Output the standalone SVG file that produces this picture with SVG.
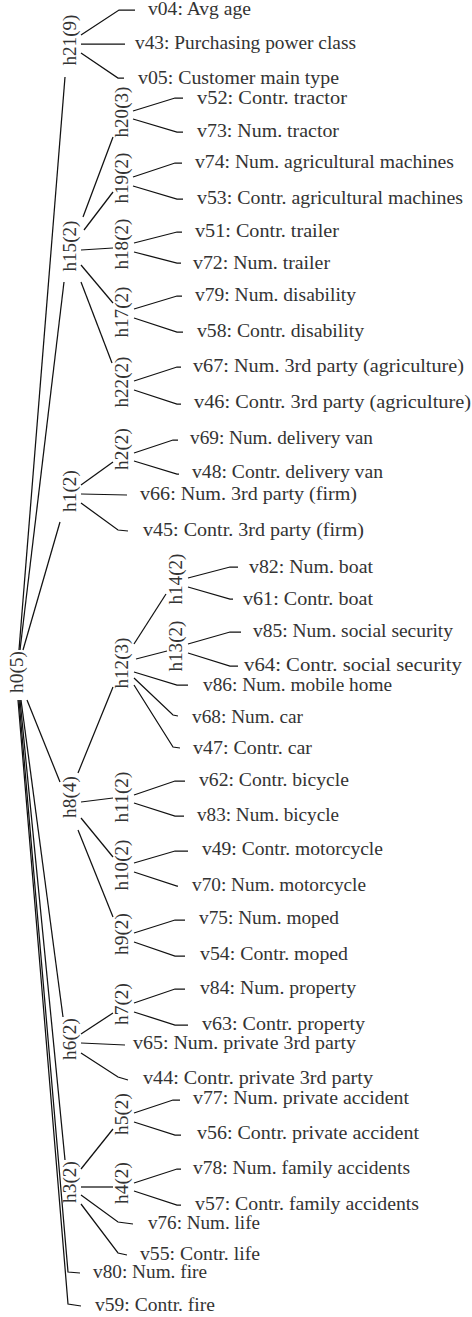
<svg xmlns="http://www.w3.org/2000/svg" width="472" height="1317" viewBox="0 0 472 1317" font-family="'Liberation Serif', 'DejaVu Serif', serif">
<style>
.e{fill:none;stroke:#111;stroke-width:1.25;stroke-linejoin:miter}
text{font-family:'Liberation Serif','DejaVu Serif',serif;font-size:18px;fill:#333}
.h{text-anchor:middle}
</style>
<rect width="472" height="1317" fill="#fff"/>
<g id="connectors">
<polyline class="e" points="19,650 65,77"/>
<polyline class="e" points="20,650 64,282"/>
<polyline class="e" points="23,650 60,522"/>
<polyline class="e" points="27,700 60,782"/>
<polyline class="e" points="21,700 63,1017"/>
<polyline class="e" points="20,700 65,1160"/>
<polyline class="e" points="19,700 68,1272 80,1273"/>
<polyline class="e" points="18,700 68,1304 81,1306"/>
<polyline class="e" points="83,217 113,137"/>
<polyline class="e" points="84,230 113,192"/>
<polyline class="e" points="81,250 113,248"/>
<polyline class="e" points="81,265 113,303"/>
<polyline class="e" points="81,282 112,363"/>
<polyline class="e" points="81,485 113,462"/>
<polyline class="e" points="78,773 113,687"/>
<polyline class="e" points="134,644 166,594"/>
<polyline class="e" points="136,659 167,651"/>
<polyline class="e" points="81,802 113,798"/>
<polyline class="e" points="81,818 113,857"/>
<polyline class="e" points="78,830 113,917"/>
<polyline class="e" points="81,1034 113,1013"/>
<polyline class="e" points="81,1169 113,1129"/>
<polyline class="e" points="81,1187 113,1187"/>
<polyline class="e" points="81,35 119,10 135,10"/>
<polyline class="e" points="81,44 125,44"/>
<polyline class="e" points="81,53 118,78 124,78"/>
<polyline class="e" points="133,111 175,98 183,98"/>
<polyline class="e" points="133,119 177,132 183,132"/>
<polyline class="e" points="133,177 175,163 182,163"/>
<polyline class="e" points="133,186 177,199 183,199"/>
<polyline class="e" points="134,243 177,232 182,232"/>
<polyline class="e" points="134,252 177,263 181,263"/>
<polyline class="e" points="134,309 177,296 182,296"/>
<polyline class="e" points="134,318 177,332 183,332"/>
<polyline class="e" points="134,381 177,367 181,367"/>
<polyline class="e" points="134,390 177,404 181,404"/>
<polyline class="e" points="134,453 173,440 178,440"/>
<polyline class="e" points="134,461 177,474 179,474"/>
<polyline class="e" points="81,494 127,495"/>
<polyline class="e" points="81,503 118,530 128,531"/>
<polyline class="e" points="188,578 230,567 238,567"/>
<polyline class="e" points="188,587 230,599 233,599"/>
<polyline class="e" points="188,644 230,632 241,632"/>
<polyline class="e" points="188,653 230,666 238,666"/>
<polyline class="e" points="134,672 177,685 188,685"/>
<polyline class="e" points="134,678 173,715 178,716"/>
<polyline class="e" points="134,685 173,747 180,748"/>
<polyline class="e" points="134,795 175,781 185,781"/>
<polyline class="e" points="134,803 175,816 184,816"/>
<polyline class="e" points="134,863 175,851 188,851"/>
<polyline class="e" points="134,872 177,886 178,886"/>
<polyline class="e" points="134,933 175,920 185,920"/>
<polyline class="e" points="134,942 175,956 185,956"/>
<polyline class="e" points="134,1003 175,989 185,989"/>
<polyline class="e" points="134,1012 175,1025 188,1025"/>
<polyline class="e" points="81,1043 125,1045"/>
<polyline class="e" points="81,1053 118,1077 128,1080"/>
<polyline class="e" points="134,1113 173,1100 180,1100"/>
<polyline class="e" points="134,1122 175,1135 181,1135"/>
<polyline class="e" points="134,1183 177,1169 181,1169"/>
<polyline class="e" points="134,1191 177,1205 181,1205"/>
<polyline class="e" points="81,1195 118,1222 133,1224"/>
<polyline class="e" points="81,1204 118,1253 127,1255"/>
</g>
<g id="h0"><text class="h" transform="translate(23,672) rotate(-90)" textLength="42" lengthAdjust="spacingAndGlyphs">h0(5)</text></g>
<g id="h21"><text class="h" transform="translate(76,40) rotate(-90)" textLength="51" lengthAdjust="spacingAndGlyphs">h21(9)</text></g>
<g id="h15"><text class="h" transform="translate(76,246) rotate(-90)" textLength="51" lengthAdjust="spacingAndGlyphs">h15(2)</text></g>
<g id="h1"><text class="h" transform="translate(76,491) rotate(-90)" textLength="42" lengthAdjust="spacingAndGlyphs">h1(2)</text></g>
<g id="h8"><text class="h" transform="translate(76,797) rotate(-90)" textLength="42" lengthAdjust="spacingAndGlyphs">h8(4)</text></g>
<g id="h6"><text class="h" transform="translate(76,1039) rotate(-90)" textLength="42" lengthAdjust="spacingAndGlyphs">h6(2)</text></g>
<g id="h3"><text class="h" transform="translate(76,1182) rotate(-90)" textLength="42" lengthAdjust="spacingAndGlyphs">h3(2)</text></g>
<g id="h20"><text class="h" transform="translate(128,112) rotate(-90)" textLength="51" lengthAdjust="spacingAndGlyphs">h20(3)</text></g>
<g id="h19"><text class="h" transform="translate(128,178) rotate(-90)" textLength="51" lengthAdjust="spacingAndGlyphs">h19(2)</text></g>
<g id="h18"><text class="h" transform="translate(128,244) rotate(-90)" textLength="51" lengthAdjust="spacingAndGlyphs">h18(2)</text></g>
<g id="h17"><text class="h" transform="translate(128,312) rotate(-90)" textLength="51" lengthAdjust="spacingAndGlyphs">h17(2)</text></g>
<g id="h22"><text class="h" transform="translate(128,382) rotate(-90)" textLength="51" lengthAdjust="spacingAndGlyphs">h22(2)</text></g>
<g id="h2"><text class="h" transform="translate(128,449) rotate(-90)" textLength="42" lengthAdjust="spacingAndGlyphs">h2(2)</text></g>
<g id="h12"><text class="h" transform="translate(128,663) rotate(-90)" textLength="51" lengthAdjust="spacingAndGlyphs">h12(3)</text></g>
<g id="h11"><text class="h" transform="translate(128,797) rotate(-90)" textLength="51" lengthAdjust="spacingAndGlyphs">h11(2)</text></g>
<g id="h10"><text class="h" transform="translate(128,865) rotate(-90)" textLength="51" lengthAdjust="spacingAndGlyphs">h10(2)</text></g>
<g id="h9"><text class="h" transform="translate(128,934) rotate(-90)" textLength="42" lengthAdjust="spacingAndGlyphs">h9(2)</text></g>
<g id="h7"><text class="h" transform="translate(128,1004) rotate(-90)" textLength="42" lengthAdjust="spacingAndGlyphs">h7(2)</text></g>
<g id="h5"><text class="h" transform="translate(128,1114) rotate(-90)" textLength="42" lengthAdjust="spacingAndGlyphs">h5(2)</text></g>
<g id="h4"><text class="h" transform="translate(128,1183) rotate(-90)" textLength="42" lengthAdjust="spacingAndGlyphs">h4(2)</text></g>
<g id="h14"><text class="h" transform="translate(182,579) rotate(-90)" textLength="51" lengthAdjust="spacingAndGlyphs">h14(2)</text></g>
<g id="h13"><text class="h" transform="translate(182,646) rotate(-90)" textLength="51" lengthAdjust="spacingAndGlyphs">h13(2)</text></g>
<g id="v04"><text x="148" y="15" textLength="103" lengthAdjust="spacingAndGlyphs">v04: Avg age</text></g>
<g id="v43"><text x="135" y="49" textLength="221" lengthAdjust="spacingAndGlyphs">v43: Purchasing power class</text></g>
<g id="v05"><text x="138" y="84" textLength="201" lengthAdjust="spacingAndGlyphs">v05: Customer main type</text></g>
<g id="v52"><text x="197" y="104" textLength="150" lengthAdjust="spacingAndGlyphs">v52: Contr. tractor</text></g>
<g id="v73"><text x="197" y="137" textLength="142" lengthAdjust="spacingAndGlyphs">v73: Num. tractor</text></g>
<g id="v74"><text x="195" y="168" textLength="259" lengthAdjust="spacingAndGlyphs">v74: Num. agricultural machines</text></g>
<g id="v53"><text x="197" y="204" textLength="266" lengthAdjust="spacingAndGlyphs">v53: Contr. agricultural machines</text></g>
<g id="v51"><text x="195" y="237" textLength="144" lengthAdjust="spacingAndGlyphs">v51: Contr. trailer</text></g>
<g id="v72"><text x="193" y="269" textLength="137" lengthAdjust="spacingAndGlyphs">v72: Num. trailer</text></g>
<g id="v79"><text x="195" y="301" textLength="161" lengthAdjust="spacingAndGlyphs">v79: Num. disability</text></g>
<g id="v58"><text x="197" y="337" textLength="167" lengthAdjust="spacingAndGlyphs">v58: Contr. disability</text></g>
<g id="v67"><text x="193" y="372" textLength="271" lengthAdjust="spacingAndGlyphs">v67: Num. 3rd party (agriculture)</text></g>
<g id="v46"><text x="194" y="408" textLength="277" lengthAdjust="spacingAndGlyphs">v46: Contr. 3rd party (agriculture)</text></g>
<g id="v69"><text x="190" y="444" textLength="183" lengthAdjust="spacingAndGlyphs">v69: Num. delivery van</text></g>
<g id="v48"><text x="192" y="478" textLength="191" lengthAdjust="spacingAndGlyphs">v48: Contr. delivery van</text></g>
<g id="v66"><text x="140" y="500" textLength="217" lengthAdjust="spacingAndGlyphs">v66: Num. 3rd party (firm)</text></g>
<g id="v45"><text x="143" y="536" textLength="221" lengthAdjust="spacingAndGlyphs">v45: Contr. 3rd party (firm)</text></g>
<g id="v82"><text x="249" y="573" textLength="124" lengthAdjust="spacingAndGlyphs">v82: Num. boat</text></g>
<g id="v61"><text x="243" y="605" textLength="130" lengthAdjust="spacingAndGlyphs">v61: Contr. boat</text></g>
<g id="v85"><text x="253" y="637" textLength="200" lengthAdjust="spacingAndGlyphs">v85: Num. social security</text></g>
<g id="v64"><text x="244" y="671" textLength="218" lengthAdjust="spacingAndGlyphs">v64: Contr. social security</text></g>
<g id="v86"><text x="203" y="691" textLength="189" lengthAdjust="spacingAndGlyphs">v86: Num. mobile home</text></g>
<g id="v68"><text x="192" y="723" textLength="111" lengthAdjust="spacingAndGlyphs">v68: Num. car</text></g>
<g id="v47"><text x="193" y="754" textLength="119" lengthAdjust="spacingAndGlyphs">v47: Contr. car</text></g>
<g id="v62"><text x="199" y="786" textLength="150" lengthAdjust="spacingAndGlyphs">v62: Contr. bicycle</text></g>
<g id="v83"><text x="197" y="821" textLength="142" lengthAdjust="spacingAndGlyphs">v83: Num. bicycle</text></g>
<g id="v49"><text x="202" y="855" textLength="181" lengthAdjust="spacingAndGlyphs">v49: Contr. motorcycle</text></g>
<g id="v70"><text x="192" y="891" textLength="174" lengthAdjust="spacingAndGlyphs">v70: Num. motorcycle</text></g>
<g id="v75"><text x="199" y="924" textLength="140" lengthAdjust="spacingAndGlyphs">v75: Num. moped</text></g>
<g id="v54"><text x="200" y="960" textLength="148" lengthAdjust="spacingAndGlyphs">v54: Contr. moped</text></g>
<g id="v84"><text x="200" y="994" textLength="156" lengthAdjust="spacingAndGlyphs">v84: Num. property</text></g>
<g id="v63"><text x="202" y="1030" textLength="163" lengthAdjust="spacingAndGlyphs">v63: Contr. property</text></g>
<g id="v65"><text x="133" y="1049" textLength="223" lengthAdjust="spacingAndGlyphs">v65: Num. private 3rd party</text></g>
<g id="v44"><text x="143" y="1084" textLength="230" lengthAdjust="spacingAndGlyphs">v44: Contr. private 3rd party</text></g>
<g id="v77"><text x="193" y="1104" textLength="216" lengthAdjust="spacingAndGlyphs">v77: Num. private accident</text></g>
<g id="v56"><text x="197" y="1139" textLength="222" lengthAdjust="spacingAndGlyphs">v56: Contr. private accident</text></g>
<g id="v78"><text x="193" y="1174" textLength="217" lengthAdjust="spacingAndGlyphs">v78: Num. family accidents</text></g>
<g id="v57"><text x="195" y="1210" textLength="224" lengthAdjust="spacingAndGlyphs">v57: Contr. family accidents</text></g>
<g id="v76"><text x="148" y="1229" textLength="112" lengthAdjust="spacingAndGlyphs">v76: Num. life</text></g>
<g id="v55"><text x="140" y="1260" textLength="120" lengthAdjust="spacingAndGlyphs">v55: Contr. life</text></g>
<g id="v80"><text x="93" y="1278" textLength="114" lengthAdjust="spacingAndGlyphs">v80: Num. fire</text></g>
<g id="v59"><text x="95" y="1311" textLength="120" lengthAdjust="spacingAndGlyphs">v59: Contr. fire</text></g>
</svg>
